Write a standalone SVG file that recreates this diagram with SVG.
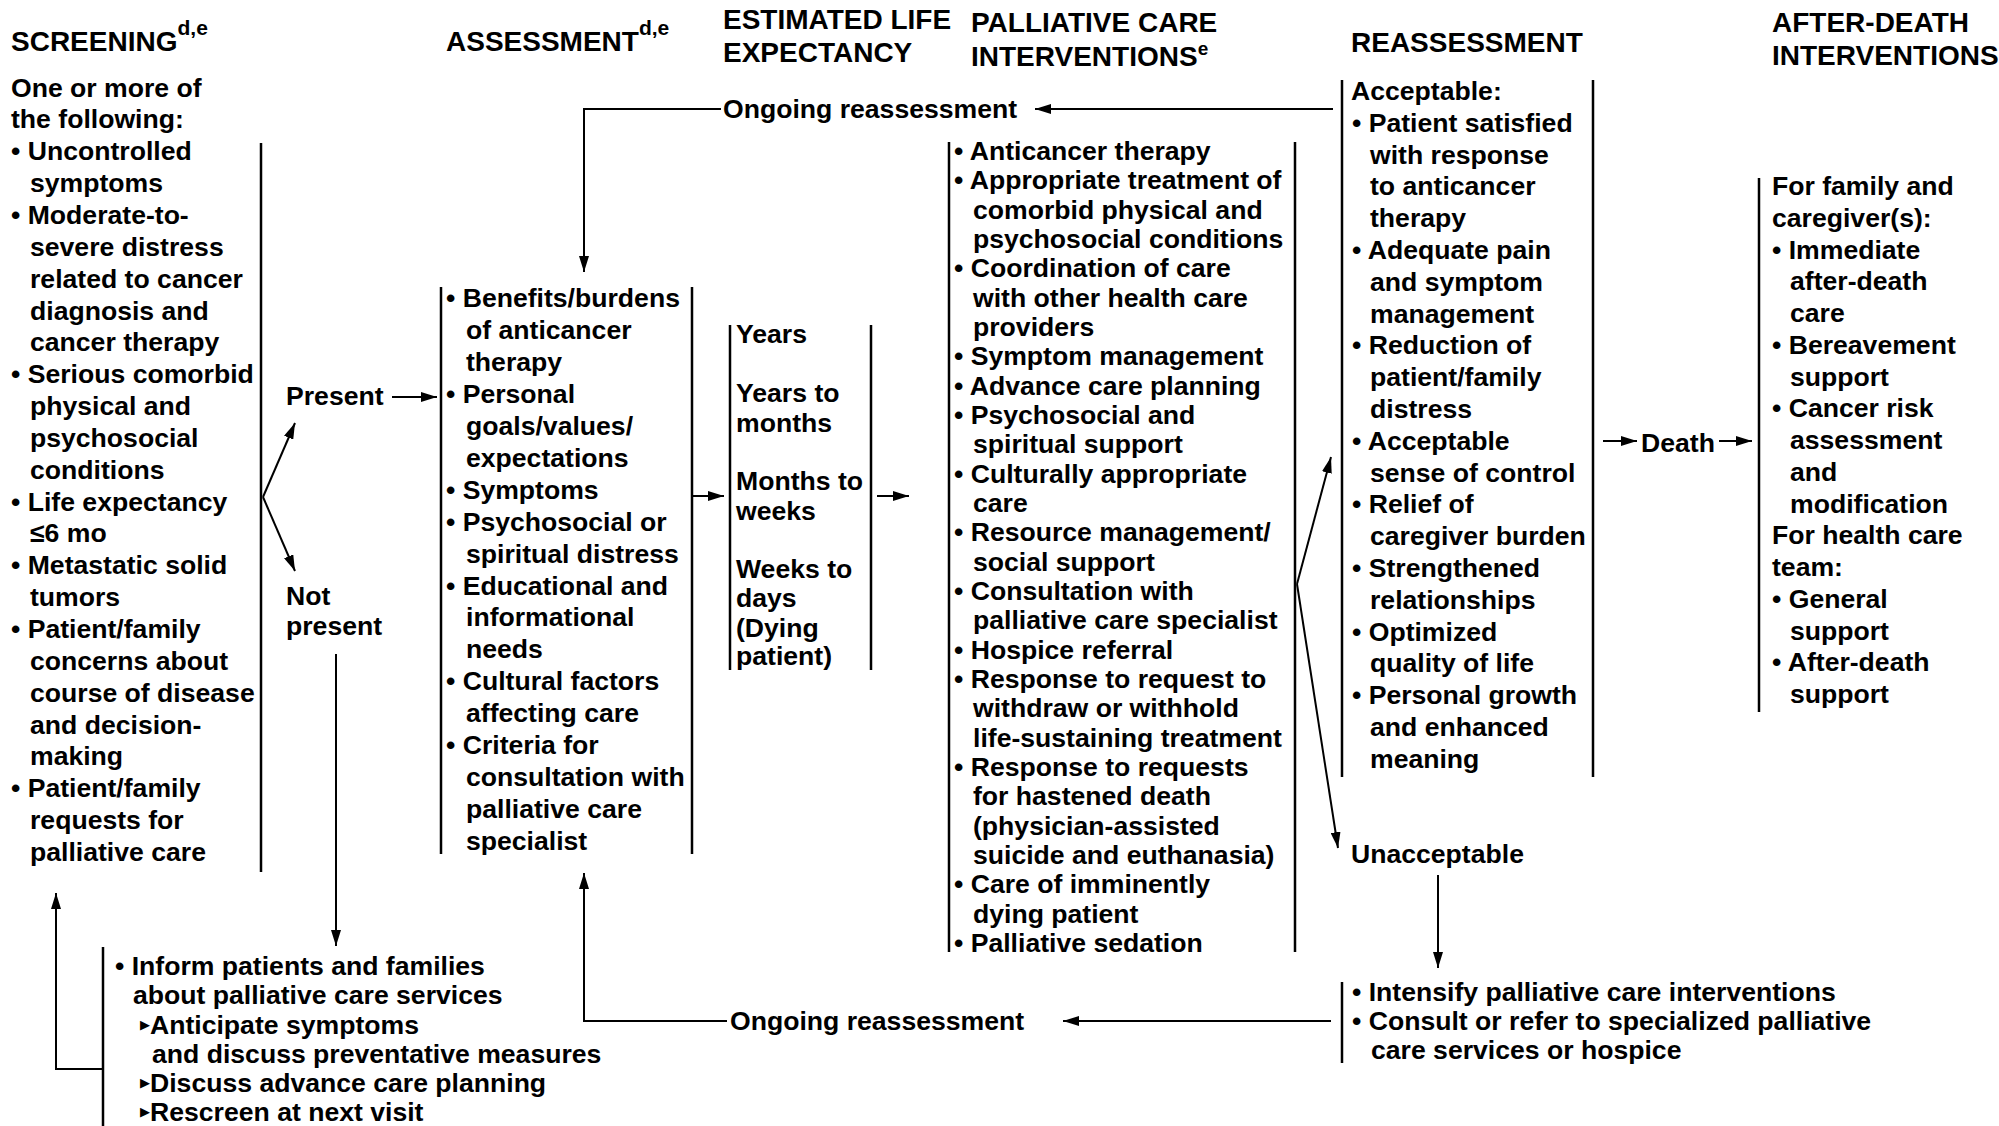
<svg xmlns="http://www.w3.org/2000/svg" width="1999" height="1126" viewBox="0 0 1999 1126">
<style>
text{font-family:"Liberation Sans",Arial,sans-serif;font-weight:bold;font-size:26.6px;fill:#000}
.hd{font-size:28px}
.sup{font-size:21px}
.sup2{font-size:19px}
.tri{font-family:"DejaVu Sans",sans-serif;font-size:13px}
.box{stroke:#000;stroke-width:2.5;fill:none}
.con{stroke:#000;stroke-width:2;fill:none}
</style>
<defs>
<marker id="ah" markerUnits="userSpaceOnUse" markerWidth="16" markerHeight="10" refX="16" refY="5" orient="auto">
<path d="M0,0 L16,5 L0,10 z" fill="#000"/>
</marker>
</defs>
<rect width="1999" height="1126" fill="#fff"/>

<g id="headers">
<text class="hd" x="11" y="51">SCREENING<tspan class="sup" y="35">d,e</tspan></text>
<text class="hd" x="446" y="51">ASSESSMENT<tspan class="sup" y="35">d,e</tspan></text>
<text class="hd" x="723" y="29">ESTIMATED LIFE</text>
<text class="hd" x="723" y="62">EXPECTANCY</text>
<text class="hd" x="971" y="32">PALLIATIVE CARE</text>
<text class="hd" x="971" y="66">INTERVENTIONS<tspan class="sup2" y="55">e</tspan></text>
<text class="hd" x="1351" y="52">REASSESSMENT</text>
<text class="hd" x="1772" y="32">AFTER-DEATH</text>
<text class="hd" x="1772" y="65">INTERVENTIONS</text>
</g>

<g id="screening">
<line class="box" x1="261" y1="143" x2="261" y2="872"/>
<text>
<tspan x="11" y="96.5">One or more of</tspan>
<tspan x="11" y="128.4">the following:</tspan>
<tspan x="11" y="160.2">• Uncontrolled</tspan>
<tspan x="30" y="192">symptoms</tspan>
<tspan x="11" y="223.9">• Moderate-to-</tspan>
<tspan x="30" y="255.8">severe distress</tspan>
<tspan x="30" y="287.6">related to cancer</tspan>
<tspan x="30" y="319.5">diagnosis and</tspan>
<tspan x="30" y="351.3">cancer therapy</tspan>
<tspan x="11" y="383.2">• Serious comorbid</tspan>
<tspan x="30" y="415">physical and</tspan>
<tspan x="30" y="446.9">psychosocial</tspan>
<tspan x="30" y="478.7">conditions</tspan>
<tspan x="11" y="510.6">• Life expectancy</tspan>
<tspan x="30" y="542.4">≤6 mo</tspan>
<tspan x="11" y="574.3">• Metastatic solid</tspan>
<tspan x="30" y="606.1">tumors</tspan>
<tspan x="11" y="638">• Patient/family</tspan>
<tspan x="30" y="669.9">concerns about</tspan>
<tspan x="30" y="701.7">course of disease</tspan>
<tspan x="30" y="733.6">and decision-</tspan>
<tspan x="30" y="765.4">making</tspan>
<tspan x="11" y="797.3">• Patient/family</tspan>
<tspan x="30" y="829.1">requests for</tspan>
<tspan x="30" y="861">palliative care</tspan>
</text>
</g>

<g id="present"><text x="286" y="405">Present</text></g>
<g id="not-present"><text><tspan x="286" y="605">Not</tspan><tspan x="286" y="635">present</tspan></text></g>

<g id="inform">
<line class="box" x1="103" y1="947" x2="103" y2="1126"/>
<text>
<tspan x="115" y="975">• Inform patients and families</tspan>
<tspan x="133" y="1004">about palliative care services</tspan>
<tspan class="tri" x="140" y="1029">▶</tspan><tspan x="150" y="1034">Anticipate symptoms</tspan>
<tspan x="152" y="1063">and discuss preventative measures</tspan>
<tspan class="tri" x="140" y="1087">▶</tspan><tspan x="150" y="1092">Discuss advance care planning</tspan>
<tspan class="tri" x="140" y="1116">▶</tspan><tspan x="150" y="1121">Rescreen at next visit</tspan>
</text>
</g>

<g id="assessment">
<line class="box" x1="441" y1="287" x2="441" y2="854"/>
<line class="box" x1="692" y1="287" x2="692" y2="854"/>
<text>
<tspan x="446" y="307">• Benefits/burdens</tspan>
<tspan x="466" y="339">of anticancer</tspan>
<tspan x="466" y="371">therapy</tspan>
<tspan x="446" y="403">• Personal</tspan>
<tspan x="466" y="435">goals/values/</tspan>
<tspan x="466" y="467">expectations</tspan>
<tspan x="446" y="499">• Symptoms</tspan>
<tspan x="446" y="531">• Psychosocial or</tspan>
<tspan x="466" y="563">spiritual distress</tspan>
<tspan x="446" y="595">• Educational and</tspan>
<tspan x="466" y="626">informational</tspan>
<tspan x="466" y="658">needs</tspan>
<tspan x="446" y="690">• Cultural factors</tspan>
<tspan x="466" y="722">affecting care</tspan>
<tspan x="446" y="754">• Criteria for</tspan>
<tspan x="466" y="786">consultation with</tspan>
<tspan x="466" y="818">palliative care</tspan>
<tspan x="466" y="850">specialist</tspan>
</text>
</g>

<g id="life-expectancy">
<line class="box" x1="730" y1="325" x2="730" y2="670"/>
<line class="box" x1="871" y1="325" x2="871" y2="670"/>
<text>
<tspan x="736" y="343">Years</tspan>
<tspan x="736" y="402">Years to</tspan>
<tspan x="736" y="432">months</tspan>
<tspan x="736" y="490">Months to</tspan>
<tspan x="736" y="520">weeks</tspan>
<tspan x="736" y="578">Weeks to</tspan>
<tspan x="736" y="607">days</tspan>
<tspan x="736" y="637">(Dying</tspan>
<tspan x="736" y="665">patient)</tspan>
</text>
</g>

<g id="interventions">
<line class="box" x1="949" y1="142" x2="949" y2="952"/>
<line class="box" x1="1295" y1="142" x2="1295" y2="952"/>
<text>
<tspan x="954" y="160">• Anticancer therapy</tspan>
<tspan x="954" y="189.3">• Appropriate treatment of</tspan>
<tspan x="973" y="218.7">comorbid physical and</tspan>
<tspan x="973" y="248">psychosocial conditions</tspan>
<tspan x="954" y="277.3">• Coordination of care</tspan>
<tspan x="973" y="306.7">with other health care</tspan>
<tspan x="973" y="336">providers</tspan>
<tspan x="954" y="365.3">• Symptom management</tspan>
<tspan x="954" y="394.7">• Advance care planning</tspan>
<tspan x="954" y="424">• Psychosocial and</tspan>
<tspan x="973" y="453.3">spiritual support</tspan>
<tspan x="954" y="482.7">• Culturally appropriate</tspan>
<tspan x="973" y="512">care</tspan>
<tspan x="954" y="541.3">• Resource management/</tspan>
<tspan x="973" y="570.7">social support</tspan>
<tspan x="954" y="600">• Consultation with</tspan>
<tspan x="973" y="629.3">palliative care specialist</tspan>
<tspan x="954" y="658.7">• Hospice referral</tspan>
<tspan x="954" y="688">• Response to request to</tspan>
<tspan x="973" y="717.3">withdraw or withhold</tspan>
<tspan x="973" y="746.7">life-sustaining treatment</tspan>
<tspan x="954" y="776">• Response to requests</tspan>
<tspan x="973" y="805.3">for hastened death</tspan>
<tspan x="973" y="834.7">(physician-assisted</tspan>
<tspan x="973" y="864">suicide and euthanasia)</tspan>
<tspan x="954" y="893.3">• Care of imminently</tspan>
<tspan x="973" y="922.7">dying patient</tspan>
<tspan x="954" y="952">• Palliative sedation</tspan>
</text>
</g>

<g id="acceptable">
<line class="box" x1="1342" y1="80" x2="1342" y2="777"/>
<line class="box" x1="1593" y1="80" x2="1593" y2="777"/>
<text>
<tspan x="1351" y="100">Acceptable:</tspan>
<tspan x="1352" y="131.8">• Patient satisfied</tspan>
<tspan x="1370" y="163.6">with response</tspan>
<tspan x="1370" y="195.4">to anticancer</tspan>
<tspan x="1370" y="227.2">therapy</tspan>
<tspan x="1352" y="259">• Adequate pain</tspan>
<tspan x="1370" y="290.8">and symptom</tspan>
<tspan x="1370" y="322.6">management</tspan>
<tspan x="1352" y="354.4">• Reduction of</tspan>
<tspan x="1370" y="386.2">patient/family</tspan>
<tspan x="1370" y="418">distress</tspan>
<tspan x="1352" y="449.8">• Acceptable</tspan>
<tspan x="1370" y="481.6">sense of control</tspan>
<tspan x="1352" y="513.4">• Relief of</tspan>
<tspan x="1370" y="545.2">caregiver burden</tspan>
<tspan x="1352" y="577">• Strengthened</tspan>
<tspan x="1370" y="608.8">relationships</tspan>
<tspan x="1352" y="640.6">• Optimized</tspan>
<tspan x="1370" y="672.4">quality of life</tspan>
<tspan x="1352" y="704.2">• Personal growth</tspan>
<tspan x="1370" y="736">and enhanced</tspan>
<tspan x="1370" y="767.8">meaning</tspan>
</text>
</g>

<g id="unacceptable"><text x="1351" y="863">Unacceptable</text></g>

<g id="intensify">
<line class="box" x1="1342" y1="982" x2="1342" y2="1063"/>
<text>
<tspan x="1352" y="1001">• Intensify palliative care interventions</tspan>
<tspan x="1352" y="1030">• Consult or refer to specialized palliative</tspan>
<tspan x="1371" y="1059">care services or hospice</tspan>
</text>
</g>

<g id="death"><text x="1641" y="452">Death</text></g>

<g id="after-death">
<line class="box" x1="1759" y1="178" x2="1759" y2="712"/>
<text>
<tspan x="1772" y="195">For family and</tspan>
<tspan x="1772" y="226.8">caregiver(s):</tspan>
<tspan x="1772" y="258.5">• Immediate</tspan>
<tspan x="1790" y="290.3">after-death</tspan>
<tspan x="1790" y="322">care</tspan>
<tspan x="1772" y="353.8">• Bereavement</tspan>
<tspan x="1790" y="385.5">support</tspan>
<tspan x="1772" y="417.3">• Cancer risk</tspan>
<tspan x="1790" y="449">assessment</tspan>
<tspan x="1790" y="480.8">and</tspan>
<tspan x="1790" y="512.5">modification</tspan>
<tspan x="1772" y="544.3">For health care</tspan>
<tspan x="1772" y="576">team:</tspan>
<tspan x="1772" y="607.8">• General</tspan>
<tspan x="1790" y="639.5">support</tspan>
<tspan x="1772" y="671.3">• After-death</tspan>
<tspan x="1790" y="703">support</tspan>
</text>
</g>

<g id="ongoing-top"><text x="723" y="118">Ongoing reassessment</text></g>
<g id="ongoing-bottom"><text x="730" y="1030">Ongoing reassessment</text></g>

<g id="connectors">
<line class="con" x1="263" y1="497" x2="295" y2="423" marker-end="url(#ah)"/>
<line class="con" x1="263" y1="497" x2="295" y2="571" marker-end="url(#ah)"/>
<line class="con" x1="392" y1="397" x2="437" y2="397" marker-end="url(#ah)"/>
<line class="con" x1="336" y1="654" x2="336" y2="946" marker-end="url(#ah)"/>
<polyline class="con" points="103,1069 56,1069 56,893" marker-end="url(#ah)"/>
<line class="con" x1="692" y1="496" x2="724" y2="496" marker-end="url(#ah)"/>
<line class="con" x1="877" y1="496" x2="909" y2="496" marker-end="url(#ah)"/>
<line class="con" x1="1297" y1="584" x2="1331" y2="457" marker-end="url(#ah)"/>
<line class="con" x1="1297" y1="584" x2="1338" y2="848" marker-end="url(#ah)"/>
<line class="con" x1="1333" y1="109" x2="1035" y2="109" marker-end="url(#ah)"/>
<polyline class="con" points="721,109 584,109 584,272" marker-end="url(#ah)"/>
<line class="con" x1="1438" y1="875" x2="1438" y2="968" marker-end="url(#ah)"/>
<line class="con" x1="1331" y1="1021" x2="1063" y2="1021" marker-end="url(#ah)"/>
<polyline class="con" points="727,1021 584,1021 584,873" marker-end="url(#ah)"/>
<line class="con" x1="1603" y1="441" x2="1637" y2="441" marker-end="url(#ah)"/>
<line class="con" x1="1719" y1="441" x2="1752" y2="441" marker-end="url(#ah)"/>
</g>
</svg>
